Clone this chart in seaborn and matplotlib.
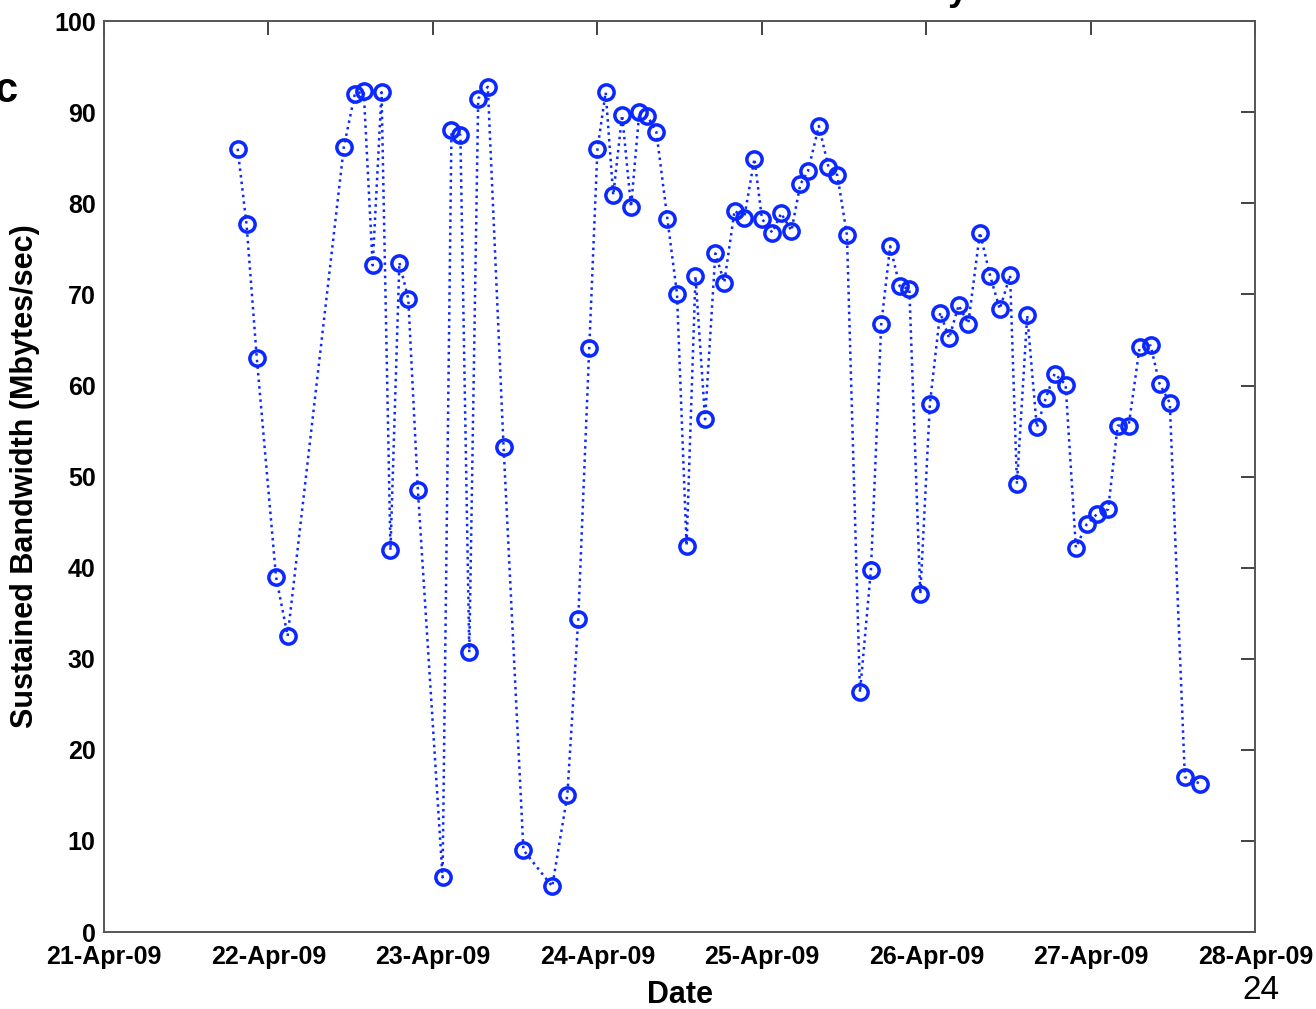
import pandas as pd
import numpy as np
import seaborn as sns
import matplotlib.pyplot as plt
import matplotlib.dates as mdates

# hours since 21-Apr-09 00:00 for each transfer
hours = [19.5, 20.8, 22.3, 25.1, 26.8, 35.0, 36.6, 37.9, 39.2, 40.5,
         41.8, 43.1, 44.4, 45.8, 49.4, 50.7, 52.0, 53.3, 54.6, 56.0,
         58.3, 61.2, 65.4, 67.6, 69.2, 70.8, 72.0, 73.2, 74.3, 75.6,
         76.9, 78.1, 79.3, 80.6, 82.2, 83.6, 85.0, 86.3, 87.7, 89.2,
         90.5, 92.0, 93.4, 94.9, 96.0, 97.5, 98.8, 100.3, 101.6, 102.7,
         104.3, 105.7, 107.0, 108.4, 110.3, 111.9, 113.4, 114.7, 116.1, 117.5,
         119.1, 120.5, 122.0, 123.3, 124.7, 126.1, 127.8, 129.3, 130.7, 132.2,
         133.2, 134.7, 136.1, 137.4, 138.7, 140.3, 141.8, 143.4, 144.9, 146.5,
         147.9, 149.5, 151.1, 152.7, 154.0, 155.5, 157.7, 159.9]

bandwidth = [86.0, 77.7, 63.0, 39.0, 32.5, 86.2, 92.0, 92.3, 73.2, 92.2,
             41.9, 73.5, 69.5, 48.5, 6.0, 88.0, 87.5, 30.7, 91.5, 92.8,
             53.3, 9.0, 5.0, 15.0, 34.4, 64.1, 86.0, 92.2, 80.9, 89.7,
             79.6, 90.0, 89.6, 87.8, 78.3, 70.1, 42.4, 72.0, 56.3, 74.5,
             71.3, 79.2, 78.4, 84.9, 78.3, 76.8, 78.9, 77.0, 82.1, 83.5,
             88.5, 84.0, 83.1, 76.5, 26.3, 39.8, 66.7, 75.3, 70.9, 70.6,
             37.1, 58.0, 68.0, 65.2, 68.8, 66.8, 76.8, 72.0, 68.4, 72.1,
             49.2, 67.7, 55.4, 58.6, 61.3, 60.1, 42.2, 44.8, 45.9, 46.4,
             55.6, 55.6, 64.2, 64.4, 60.2, 58.1, 17.0, 16.3]

start = pd.Timestamp('2009-04-21')
df = pd.DataFrame({'Date': start + pd.to_timedelta(hours, unit='h'),
                   'bw': bandwidth})

sns.set_style('white')
plt.rcParams['font.family'] = ['Liberation Sans Narrow', 'Liberation Sans', 'DejaVu Sans']
plt.rcParams['text.color'] = 'black'
plt.rcParams['axes.labelcolor'] = 'black'
plt.rcParams['xtick.color'] = 'black'
plt.rcParams['ytick.color'] = 'black'

fig = plt.figure(figsize=(13.16, 10.09), dpi=100)
ax = fig.add_axes([0.079, 0.0763, 0.875, 0.9027])

blue = '#0a28ff'
sns.lineplot(data=df, x='Date', y='bw', ax=ax, estimator=None, sort=False,
             color=blue, linestyle=':', linewidth=1.8, marker='o', markersize=11,
             markerfacecolor='none', markeredgecolor=blue, markeredgewidth=2.5)

ax.set_xlim(start, start + pd.Timedelta(days=7))
ax.set_ylim(0, 100)
ax.set_yticks(np.arange(0, 101, 10))
ax.xaxis.set_major_locator(mdates.DayLocator())
ax.xaxis.set_major_formatter(mdates.DateFormatter('%d-%b-%y'))

for s in ax.spines.values():
    s.set_visible(True)
    s.set_color('#555555')
    s.set_linewidth(1.4)
ax.tick_params(axis='both', direction='in', length=10, width=1.2, color='#222222',
               top=True, right=True, labelsize=18)
ax.tick_params(axis='x', pad=9)
ax.tick_params(axis='y', pad=6)
for lab in ax.get_xticklabels() + ax.get_yticklabels():
    lab.set_fontweight('bold')

ax.set_xlabel('Date', fontsize=22, fontweight='bold', labelpad=8)
ax.set_ylabel('Sustained Bandwidth (Mbytes/sec)', fontsize=22, fontweight='semibold',
              family=['Liberation Sans', 'DejaVu Sans'], labelpad=10)

# slide decorations cut off in the original
fig.text(-0.004, 0.91, 'c', fontsize=30, fontweight='bold', family=['Liberation Sans'],
         ha='left', va='center')
fig.text(0.728, 1.0, 'y', fontsize=26, fontweight='bold', family=['Liberation Sans'],
         ha='center', va='baseline')
fig.text(0.958, 0.003, '24', fontsize=24, family=['Liberation Sans Narrow', 'Liberation Sans'],
         ha='center', va='bottom')

plt.savefig('out.png', dpi=100)
